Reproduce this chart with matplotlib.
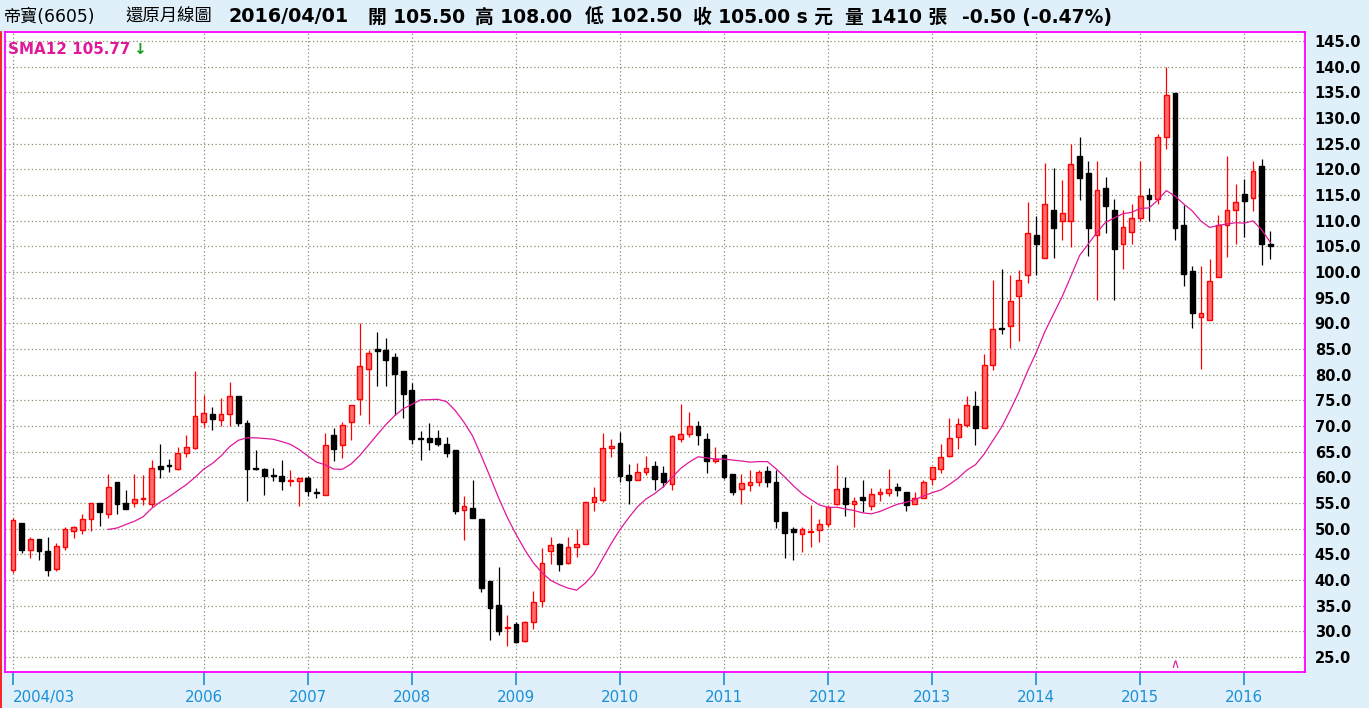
import numpy as np
import pandas as pd
import matplotlib.pyplot as plt

# monthly candles, 2004/03 .. 2016/04
opens = [42.0, 51.1, 45.8, 48.0, 45.7, 42.1, 46.5, 49.5, 49.7, 51.8, 55.0, 52.9,
         59.1, 55.0, 55.0, 55.7, 54.9, 62.2, 62.4, 61.7, 64.7, 65.8, 70.7, 72.4,
         71.1, 72.3, 75.9, 70.6, 61.9, 61.6, 60.5, 60.3, 59.3, 59.2, 59.9, 57.1,
         56.6, 68.2, 66.3, 70.8, 75.2, 81.1, 85.0, 84.8, 83.5, 80.7, 77.0, 67.7,
         67.7, 67.7, 66.5, 65.3, 53.6, 54.0, 51.9, 39.8, 35.1, 30.6, 31.4, 28.2,
         31.8, 36.0, 45.6, 47.1, 43.3, 46.5, 47.0, 55.1, 55.6, 65.8, 66.7, 60.4,
         59.4, 61.0, 62.2, 60.8, 58.7, 67.4, 68.4, 70.0, 67.5, 63.2, 64.4, 60.6,
         57.7, 58.6, 59.1, 61.2, 59.1, 53.2, 50.0, 49.0, 49.4, 49.7, 50.9, 54.8,
         57.9, 54.8, 56.2, 54.4, 56.8, 56.9, 58.2, 57.1, 54.8, 56.0, 59.6, 61.7,
         64.2, 67.9, 70.2, 73.8, 69.7, 81.9, 89.1, 89.4, 95.3, 99.4, 107.2, 102.8,
         112.0, 110.0, 110.0, 122.5, 119.2, 107.3, 116.3, 112.0, 105.4, 107.7, 110.6, 115.0,
         114.3, 126.2, 134.8, 109.1, 100.2, 91.2, 90.6, 99.1, 109.2, 112.0, 115.2, 114.5,
         120.6, 105.5]
highs = [52.0, 51.1, 48.4, 48.0, 48.4, 47.2, 50.3, 50.6, 52.9, 55.0, 55.0, 60.6,
         59.1, 57.6, 60.6, 60.4, 63.4, 66.5, 63.6, 65.9, 68.2, 80.8, 76.1, 73.7,
         75.4, 78.6, 75.9, 71.2, 65.3, 61.8, 61.8, 63.4, 61.5, 59.9, 60.3, 57.9,
         68.6, 69.6, 70.8, 74.1, 90.0, 84.8, 88.4, 87.1, 84.2, 80.7, 78.4, 69.1,
         70.6, 69.2, 67.8, 65.3, 56.4, 59.4, 51.9, 39.8, 42.5, 33.2, 31.8, 32.1,
         37.9, 46.2, 48.4, 47.3, 48.4, 49.9, 55.1, 58.1, 68.6, 67.4, 68.8, 62.6,
         62.8, 64.2, 63.1, 62.2, 68.2, 74.3, 72.7, 71.0, 68.6, 65.9, 64.4, 60.6,
         60.6, 61.4, 61.4, 62.3, 61.4, 53.2, 50.3, 50.3, 54.7, 51.9, 54.7, 62.5,
         60.1, 56.1, 59.5, 57.9, 57.9, 61.7, 58.8, 57.1, 57.1, 59.5, 62.0, 66.4,
         71.5, 71.5, 75.8, 76.9, 84.1, 98.5, 100.5, 99.5, 100.4, 113.6, 111.0, 121.2,
         120.2, 117.9, 125.0, 126.3, 121.6, 121.6, 118.6, 114.3, 112.0, 113.3, 121.6, 116.3,
         126.8, 140.0, 134.8, 113.0, 101.2, 101.2, 102.5, 111.1, 122.6, 117.1, 118.1, 121.6,
         122.0, 108.0]
lows = [41.3, 45.2, 44.2, 43.8, 40.7, 41.8, 45.8, 48.1, 48.9, 49.6, 50.6, 52.0,
        52.9, 53.9, 54.3, 54.7, 54.3, 59.9, 61.1, 61.5, 63.9, 65.6, 69.9, 69.3,
        70.0, 70.0, 70.0, 55.4, 61.5, 56.6, 59.3, 57.6, 58.4, 54.5, 56.3, 55.9,
        56.6, 63.1, 63.7, 67.2, 72.2, 70.3, 77.7, 77.8, 72.2, 71.5, 66.4, 63.4,
        65.4, 66.2, 64.0, 52.9, 47.7, 52.0, 37.7, 28.4, 29.3, 27.2, 27.7, 28.0,
        30.5, 34.7, 43.2, 41.8, 43.2, 44.4, 47.0, 53.5, 55.1, 64.0, 59.1, 54.9,
        59.4, 60.5, 57.5, 58.2, 57.6, 66.8, 67.9, 66.3, 60.9, 62.7, 59.6, 56.5,
        54.9, 57.3, 58.4, 58.2, 50.2, 44.2, 43.8, 45.4, 46.4, 47.5, 50.3, 54.7,
        52.4, 50.3, 53.3, 53.7, 55.3, 56.4, 56.4, 53.4, 54.8, 56.0, 58.6, 60.9,
        64.0, 65.5, 69.9, 66.3, 69.7, 81.0, 87.9, 85.2, 86.5, 97.9, 99.4, 102.8,
        102.8, 106.2, 104.9, 114.0, 103.2, 94.5, 107.6, 94.5, 100.6, 105.4, 110.0, 110.0,
        113.3, 123.9, 106.2, 97.3, 89.0, 81.2, 90.6, 99.1, 103.0, 105.5, 106.9, 111.9,
        101.4, 102.5]
closes = [51.7, 45.8, 48.0, 45.6, 41.9, 46.7, 50.0, 50.4, 51.8, 55.0, 53.3, 58.1,
          54.9, 53.9, 55.7, 56.0, 61.8, 61.7, 62.2, 64.7, 65.9, 71.9, 72.5, 71.3,
          72.4, 75.8, 70.5, 61.7, 61.7, 60.3, 60.3, 59.2, 59.5, 59.9, 57.3, 56.9,
          66.3, 65.6, 70.2, 74.1, 81.6, 84.2, 84.7, 82.9, 80.2, 76.3, 67.5, 67.5,
          66.8, 66.4, 64.7, 53.5, 54.4, 52.0, 38.5, 34.5, 30.1, 30.8, 28.0, 31.8,
          35.7, 43.3, 46.8, 43.2, 46.4, 47.1, 55.1, 56.1, 65.8, 66.2, 60.3, 59.4,
          61.0, 61.8, 59.7, 59.0, 68.1, 68.4, 70.0, 68.3, 63.2, 63.6, 60.1, 57.2,
          58.8, 59.1, 61.0, 59.0, 51.4, 49.2, 49.3, 49.9, 49.6, 50.9, 54.2, 57.7,
          54.8, 55.4, 55.5, 56.8, 57.1, 57.7, 57.5, 54.6, 55.9, 59.1, 62.0, 64.0,
          67.7, 70.3, 74.1, 69.6, 81.9, 88.9, 88.9, 94.4, 98.5, 107.6, 105.5, 113.3,
          108.6, 111.4, 121.1, 118.3, 108.6, 115.9, 112.9, 104.4, 108.7, 110.6, 114.9, 114.3,
          126.2, 134.4, 108.6, 99.7, 92.1, 92.1, 98.2, 109.1, 112.0, 113.6, 113.9, 119.6,
          105.5, 105.0]

months = pd.period_range('2004-03', periods=len(closes), freq='M')
tick_labels = ['2004/03'] + [str(y) for y in range(2006, 2017)]

# header items: text, left pixel, weight, size
header = [('帝寶(6605)', 4, 'normal', 12.3), ('還原月線圖', 125, 'normal', 12.5),
          ('2016/04/01', 228, 'bold', 13.8), ('開 105.50', 368, 'bold', 13.5),
          ('高 108.00', 475, 'bold', 13.5), ('低 102.50', 585, 'bold', 13.5),
          ('收 105.00 s 元', 693, 'bold', 13.5), ('量 1410 張', 845, 'bold', 13.5),
          ('-0.50 (-0.47%)', 962, 'bold', 13.5)]

plt.rcParams['font.family'] = ['DejaVu Sans', 'Noto Sans CJK TC']

W, H = 1369, 708
bg = '#DFF0FA'
fig = plt.figure(figsize=(W / 100, H / 100), dpi=100, facecolor=bg)
ax = fig.add_axes([5 / W, 36 / H, 1300 / W, 640 / H])
ax.set_facecolor('white')

o = np.array(opens); h = np.array(highs); l = np.array(lows); c = np.array(closes)
x = np.arange(len(c))
up = c >= o

# wicks
ax.vlines(x[up], l[up], h[up], color='#FF0000', lw=0.9, zorder=3)
ax.vlines(x[~up], l[~up], h[~up], color='black', lw=0.9, zorder=3)
# bodies
bottom = np.minimum(o, c)
height = np.abs(c - o)
ax.bar(x[up], height[up], bottom=bottom[up], width=0.55, color='#FF6A6A',
       edgecolor='#FF0000', linewidth=1.0, zorder=4)
ax.bar(x[~up], height[~up], bottom=bottom[~up], width=0.55, color='black',
       edgecolor='black', linewidth=1.0, zorder=4)

# 12-month moving average
sma = pd.Series(closes).rolling(12).mean()
ax.plot(x, sma, color='#E0189A', lw=0.9, zorder=5)

ax.set_xlim(-0.92, 149.0)
ax.set_ylim(22.08, 146.75)

ticks = [0] + [i for i, m in enumerate(months) if m.month == 1 and m.year >= 2006]
ax.set_xticks(ticks)
ax.set_xticklabels(tick_labels)
ax.get_xticklabels()[0].set_horizontalalignment('left')
ax.get_xticklabels()[0].set_x(-0.25)
ax.set_yticks(np.arange(25, 146, 5))
ax.set_yticklabels([f'{v:.1f}' for v in np.arange(25, 146, 5)])
ax.yaxis.tick_right()
ax.tick_params(axis='y', length=0, pad=7, labelsize=10.5, labelcolor='black')
for t in ax.get_yticklabels():
    t.set_fontweight('bold')
ax.tick_params(axis='x', length=9, width=1.2, color='#1A8FD8', labelcolor='#1A8FD8',
               labelsize=10.8, pad=4)

ax.grid(True, color='#8C8C70', linestyle=(0, (1, 2)), linewidth=0.9)
ax.set_axisbelow(True)
for s in ax.spines.values():
    s.set_color('#FF00FF')
    s.set_linewidth(1.3)

ax.text(0.002, 0.985, 'SMA12 105.77', transform=ax.transAxes, color='#E0189A',
        fontsize=10.9, fontweight='bold', va='top', ha='left')
ax.text(0.0985, 0.985, '↓', transform=ax.transAxes, color='#1A9A1A',
        fontsize=11, fontweight='bold', va='top', ha='left')
ax.text(134.0, 22.2, '∧', color='#E0189A', fontsize=9, ha='center', va='bottom')

for txt, px, wt, fs in header:
    fig.text(px / W, 1 - 17 / H, txt, fontsize=fs, fontweight=wt, va='center',
             ha='left', color='black')

fig.add_artist(plt.Line2D([0.6 / W, 0.6 / W], [0, 1 - 32 / H], color='#FF0000',
                          lw=1.2, transform=fig.transFigure))

fig.savefig('out.png', dpi=100, facecolor=bg)
